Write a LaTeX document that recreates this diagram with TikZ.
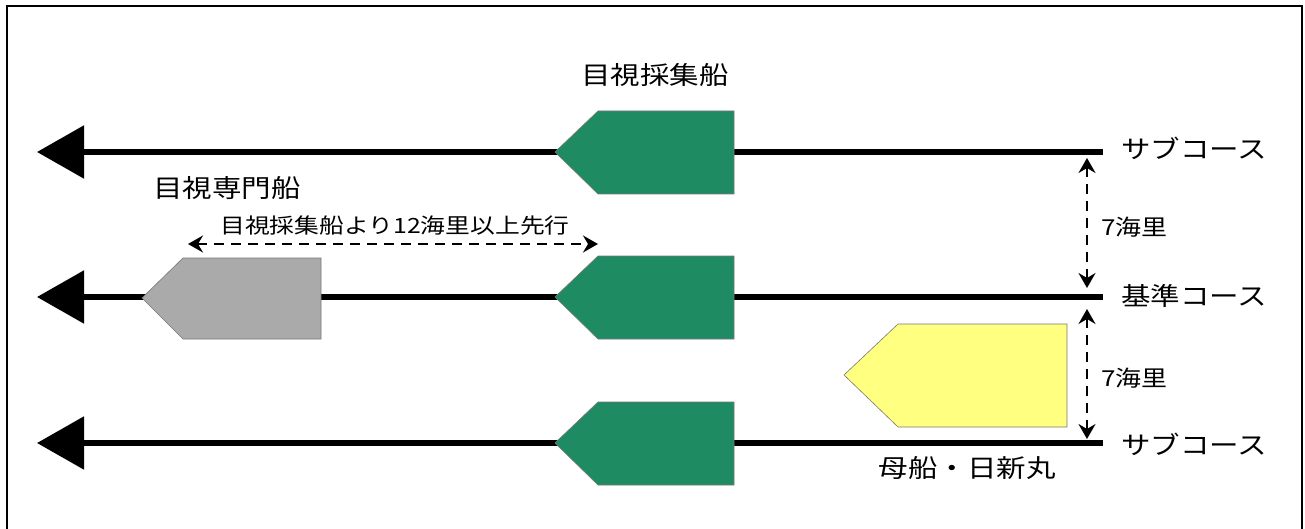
\documentclass[tikz,border=0pt]{standalone}
\usepackage{fontspec}
\newfontfamily\jp[FakeStretch=1.18]{Noto Sans CJK JP}
\usetikzlibrary{arrows.meta}
\definecolor{boatgreen}{RGB}{30,139,99}
\definecolor{boatgray}{RGB}{170,170,170}
\definecolor{boatyellow}{RGB}{255,255,128}
\definecolor{edgegray}{RGB}{120,120,120}
\begin{document}
\begin{tikzpicture}[x=1pt,y=-1pt,
  course/.style={line width=5.5pt,-{Triangle[length=47pt,width=52pt]}},
  gap/.style={line width=2pt,dash pattern=on 10pt off 7pt,
    {Stealth[length=15pt,width=17pt,inset=5pt]}-{Stealth[length=15pt,width=17pt,inset=5pt]}},
  boatshape/.style={draw=edgegray,line width=0.6pt},
  big/.style={font=\jp\fontsize{25}{30}\selectfont,inner sep=0pt},
  small/.style={font=\jp\fontsize{22}{26}\selectfont,inner sep=0pt},
  mid/.style={font=\jp\fontsize{21}{25}\selectfont,inner sep=0pt}]
\useasboundingbox (0,0) rectangle (1305,529);
\fill[white] (0,0) rectangle (1305,529);
% frame
\draw[line width=2pt] (7,529) -- (7,6) -- (1302,6) -- (1302,529);

% course end points
\coordinate (s1e) at (1103,152); \coordinate (s1w) at (37,152);
\coordinate (s0e) at (1103,297); \coordinate (s0w) at (37,297);
\coordinate (s2e) at (1103,443); \coordinate (s2w) at (37,443);

\draw[course] (s1e) -- (s1w);
\draw[course] (s0e) -- (s0w);
\draw[course] (s2e) -- (s2w);

% green boats
\foreach \y in {152,297,443}{
  \filldraw[boatshape,fill=boatgreen] (555,\y) -- (598,\y-41) -- (734,\y-41)
    -- (734,\y+42) -- (598,\y+42) -- cycle;
}
% gray boat
\filldraw[boatshape,fill=boatgray] (142,298) -- (183,258) -- (321,258)
  -- (321,339) -- (183,339) -- cycle;
% yellow boat
\filldraw[boatshape,fill=boatyellow] (844,375) -- (898,324) -- (1067,324)
  -- (1067,427) -- (898,427) -- cycle;

% labels
\node[big,anchor=west] (l1) at (1121,148) {サブコース};
\node[big,anchor=west] (l0) at (1121,296) {基準コース};
\node[big,anchor=west] (l2) at (1121,444) {サブコース};
\node[big] (tsaishu) at (655,75) {目視採集船};
\node[big] (tsenmon) at (227,188) {目視専門船};
\node[big] (tbosen) at (967,468) {母船・日新丸};

% 7 nautical miles gaps
\coordinate (g1a) at (1087,158); \coordinate (g1b) at (1087,288);
\coordinate (g2a) at (1087,309); \coordinate (g2b) at (1087,439);
\draw[gap] (g1a) -- (g1b);
\draw[gap] (g2a) -- (g2b);
\node[small,anchor=west] (d1) at (1101,227) {7海里};
\node[small,anchor=west] (d2) at (1101,378) {7海里};

% lead distance
\coordinate (h1) at (188,244); \coordinate (h2) at (598,244);
\draw[gap] (h1) -- (h2);
\node[mid] (lead) at (395,226) {目視採集船より12海里以上先行};
\end{tikzpicture}
\end{document}
